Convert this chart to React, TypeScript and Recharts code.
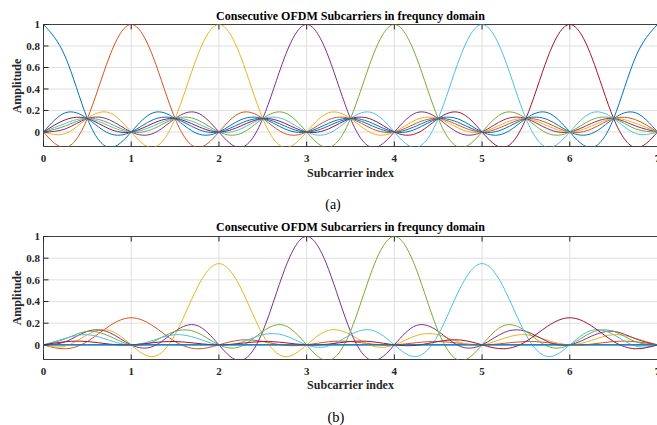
import React from 'react';
import { LineChart, Line, XAxis, YAxis, CartesianGrid, ReferenceArea } from 'recharts';

// subcarrier index axis (sampled every quarter)
const freqIndex = [0, 0.25, 0.5, 0.75, 1, 1.25, 1.5, 1.75, 2, 2.25, 2.5, 2.75, 3, 3.25, 3.5, 3.75, 4, 4.25, 4.5, 4.75, 5, 5.25, 5.5, 5.75, 6, 6.25, 6.5, 6.75, 7];

// (a) every subcarrier at unit amplitude
const scA0 = [1, 0.697, 0.125, -0.144, 0, 0.179, 0.125, -0.014, 0, 0.114, 0.125, 0.029, 0, 0.081, 0.125, 0.056, 0, 0.056, 0.125, 0.081, 0, 0.029, 0.125, 0.114, 0, -0.014, 0.125, 0.179, 0];
const scA1 = [0, -0.144, 0.125, 0.697, 1, 0.697, 0.125, -0.144, 0, 0.179, 0.125, -0.014, 0, 0.114, 0.125, 0.029, 0, 0.081, 0.125, 0.056, 0, 0.056, 0.125, 0.081, 0, 0.029, 0.125, 0.114, 0];
const scA2 = [0, -0.014, 0.125, 0.179, 0, -0.144, 0.125, 0.697, 1, 0.697, 0.125, -0.144, 0, 0.179, 0.125, -0.014, 0, 0.114, 0.125, 0.029, 0, 0.081, 0.125, 0.056, 0, 0.056, 0.125, 0.081, 0];
const scA3 = [0, 0.029, 0.125, 0.114, 0, -0.014, 0.125, 0.179, 0, -0.144, 0.125, 0.697, 1, 0.697, 0.125, -0.144, 0, 0.179, 0.125, -0.014, 0, 0.114, 0.125, 0.029, 0, 0.081, 0.125, 0.056, 0];
const scA4 = [0, 0.056, 0.125, 0.081, 0, 0.029, 0.125, 0.114, 0, -0.014, 0.125, 0.179, 0, -0.144, 0.125, 0.697, 1, 0.697, 0.125, -0.144, 0, 0.179, 0.125, -0.014, 0, 0.114, 0.125, 0.029, 0];
const scA5 = [0, 0.081, 0.125, 0.056, 0, 0.056, 0.125, 0.081, 0, 0.029, 0.125, 0.114, 0, -0.014, 0.125, 0.179, 0, -0.144, 0.125, 0.697, 1, 0.697, 0.125, -0.144, 0, 0.179, 0.125, -0.014, 0];
const scA6 = [0, 0.114, 0.125, 0.029, 0, 0.081, 0.125, 0.056, 0, 0.056, 0.125, 0.081, 0, 0.029, 0.125, 0.114, 0, -0.014, 0.125, 0.179, 0, -0.144, 0.125, 0.697, 1, 0.697, 0.125, -0.144, 0];
const scA7 = [0, 0.179, 0.125, -0.014, 0, 0.114, 0.125, 0.029, 0, 0.081, 0.125, 0.056, 0, 0.056, 0.125, 0.081, 0, 0.029, 0.125, 0.114, 0, -0.014, 0.125, 0.179, 0, -0.144, 0.125, 0.697, 1];

// (b) weighted subcarriers
const scB0 = [0, 0, 0, 0, 0, 0, 0, 0, 0, 0, 0, 0, 0, 0, 0, 0, 0, 0, 0, 0, 0, 0, 0, 0, 0, 0, 0, 0, 0];
const scB1 = [0, -0.036, 0.031, 0.174, 0.25, 0.174, 0.031, -0.036, 0, 0.045, 0.031, -0.004, 0, 0.029, 0.031, 0.007, 0, 0.02, 0.031, 0.014, 0, 0.014, 0.031, 0.02, 0, 0.007, 0.031, 0.029, 0];
const scB2 = [0, -0.011, 0.094, 0.134, 0, -0.108, 0.094, 0.523, 0.75, 0.523, 0.094, -0.108, 0, 0.134, 0.094, -0.011, 0, 0.086, 0.094, 0.022, 0, 0.061, 0.094, 0.042, 0, 0.042, 0.094, 0.061, 0];
const scB3 = [0, 0.029, 0.125, 0.114, 0, -0.014, 0.125, 0.179, 0, -0.144, 0.125, 0.697, 1, 0.697, 0.125, -0.144, 0, 0.179, 0.125, -0.014, 0, 0.114, 0.125, 0.029, 0, 0.081, 0.125, 0.056, 0];
const scB4 = [0, 0.056, 0.125, 0.081, 0, 0.029, 0.125, 0.114, 0, -0.014, 0.125, 0.179, 0, -0.144, 0.125, 0.697, 1, 0.697, 0.125, -0.144, 0, 0.179, 0.125, -0.014, 0, 0.114, 0.125, 0.029, 0];
const scB5 = [0, 0.061, 0.094, 0.042, 0, 0.042, 0.094, 0.061, 0, 0.022, 0.094, 0.086, 0, -0.011, 0.094, 0.134, 0, -0.108, 0.094, 0.523, 0.75, 0.523, 0.094, -0.108, 0, 0.134, 0.094, -0.011, 0];
const scB6 = [0, 0.029, 0.031, 0.007, 0, 0.02, 0.031, 0.014, 0, 0.014, 0.031, 0.02, 0, 0.007, 0.031, 0.029, 0, -0.004, 0.031, 0.045, 0, -0.036, 0.031, 0.174, 0.25, 0.174, 0.031, -0.036, 0];
const scB7 = [0, 0, 0, 0, 0, 0, 0, 0, 0, 0, 0, 0, 0, 0, 0, 0, 0, 0, 0, 0, 0, 0, 0, 0, 0, 0, 0, 0, 0];

const xTicks = [0, 1, 2, 3, 4, 5, 6, 7];
const yTicks = [0, 0.2, 0.4, 0.6, 0.8, 1];
const Y_MIN = -0.135;

// matlab default line colours
const colors = ['#0072BD', '#D95319', '#EDB120', '#7E2F8E', '#77AC30', '#4DBEEE', '#A2142F', '#0072BD'];

const panelA = [scA0, scA1, scA2, scA3, scA4, scA5, scA6, scA7];
const panelB = [scB0, scB1, scB2, scB3, scB4, scB5, scB6, scB7];

const CHART_W = 660;
const CHART_H = 190;
const PLOT_LEFT = 43.5;
const PLOT_TOP = 24.5;
const AXIS_W = 30;
const AXIS = '#262626';
const SERIF = '"Liberation Serif", "Times New Roman", serif';

const buildRows = (series: number[][]) =>
    freqIndex.map((x, i) => {
        const row: Record<string, number> = { x };
        series.forEach((s, k) => {
            row[`s${k}`] = s[i];
        });
        return row;
    });

const renderYTick = (props: any) => {
    const { y, payload } = props;
    return (
        <g>
            <line x1={PLOT_LEFT} x2={PLOT_LEFT + 5} y1={y} y2={y} stroke={AXIS} strokeWidth={1} />
            <text x={PLOT_LEFT - 3.5} y={y} dy="0.35em" textAnchor="end"
                fontFamily={SERIF} fontWeight={700} fontSize={11} fill={AXIS}>
                {payload.value}
            </text>
        </g>
    );
};

const makeXTick = (bottom: number) => (props: any) => {
    const { x, payload } = props;
    return (
        <g>
            <line x1={x} x2={x} y1={bottom} y2={bottom - 5} stroke={AXIS} strokeWidth={1} />
            <line x1={x} x2={x} y1={PLOT_TOP} y2={PLOT_TOP + 5} stroke={AXIS} strokeWidth={1} />
            <text x={x} y={bottom + 11.5} dy="0.35em" textAnchor="middle"
                fontFamily={SERIF} fontWeight={700} fontSize={11} fill={AXIS}>
                {payload.value}
            </text>
        </g>
    );
};

const Panel = ({ series, bottomMargin }: { series: number[][]; bottomMargin: number }) => {
    const data = buildRows(series);
    const bottom = CHART_H - bottomMargin;
    return (
        <LineChart
            width={CHART_W}
            height={CHART_H}
            data={data}
            margin={{ top: PLOT_TOP, right: CHART_W - 657.5, left: PLOT_LEFT - AXIS_W, bottom: bottomMargin - AXIS_W }}
        >
            <CartesianGrid stroke="#dfdfdf" />
            <XAxis
                dataKey="x"
                type="number"
                domain={[0, 7]}
                ticks={xTicks}
                interval={0}
                height={AXIS_W}
                axisLine={false}
                tickLine={false}
                tick={makeXTick(bottom)}
                allowDataOverflow
            />
            <YAxis
                type="number"
                domain={[Y_MIN, 1]}
                ticks={yTicks}
                interval={0}
                width={AXIS_W}
                axisLine={false}
                tickLine={false}
                tick={renderYTick}
                allowDataOverflow
            />
            {series.map((_, k) => (
                <Line
                    key={k}
                    dataKey={`s${k}`}
                    type="natural"
                    stroke={colors[k]}
                    strokeWidth={1}
                    dot={false}
                    activeDot={false}
                    isAnimationActive={false}
                />
            ))}
            <ReferenceArea x1={0} x2={7} y1={Y_MIN} y2={1} fill="none" stroke="#404040" strokeWidth={1} ifOverflow="visible" />
        </LineChart>
    );
};

const textBase: React.CSSProperties = {
    position: 'absolute',
    transform: 'translate(-50%, -50%)',
    whiteSpace: 'nowrap',
    lineHeight: 1,
    fontFamily: SERIF,
    color: '#000',
};

const Title = ({ x, y }: { x: number; y: number }) => (
    <div style={{ ...textBase, left: x, top: y, fontWeight: 700, fontSize: 12 }}>
        Consecutive OFDM Subcarriers in frequncy domain
    </div>
);

const XLabel = ({ y }: { y: number }) => (
    <div style={{ ...textBase, left: 350.5, top: y, fontWeight: 700, fontSize: 12, color: AXIS }}>Subcarrier index</div>
);

const YLabel = ({ y }: { y: number }) => (
    <div style={{ ...textBase, left: 17, top: y, fontWeight: 700, fontSize: 12, color: AXIS, transform: 'translate(-50%, -50%) rotate(-90deg)' }}>
        Amplitude
    </div>
);

export default function App() {
    return (
        <div style={{ position: 'fixed', left: 0, top: 0, width: 657, height: 425, overflow: 'hidden', background: '#fff' }}>
            <div style={{ position: 'absolute', left: 0, top: 0 }}>
                <Panel series={panelA} bottomMargin={CHART_H - 146.5} />
            </div>
            <div style={{ position: 'absolute', left: 0, top: 212 }}>
                <Panel series={panelB} bottomMargin={CHART_H - 147.5} />
            </div>
            <Title x={350.5} y={15.5} />
            <YLabel y={85.5} />
            <XLabel y={173} />
            <div style={{ ...textBase, left: 333, top: 204.5, fontSize: 14 }}>(a)</div>

            <Title x={350.5} y={226.5} />
            <YLabel y={298} />
            <XLabel y={385} />
            <div style={{ ...textBase, left: 336, top: 417, fontSize: 14.5 }}>(b)</div>
        </div>
    );
}
